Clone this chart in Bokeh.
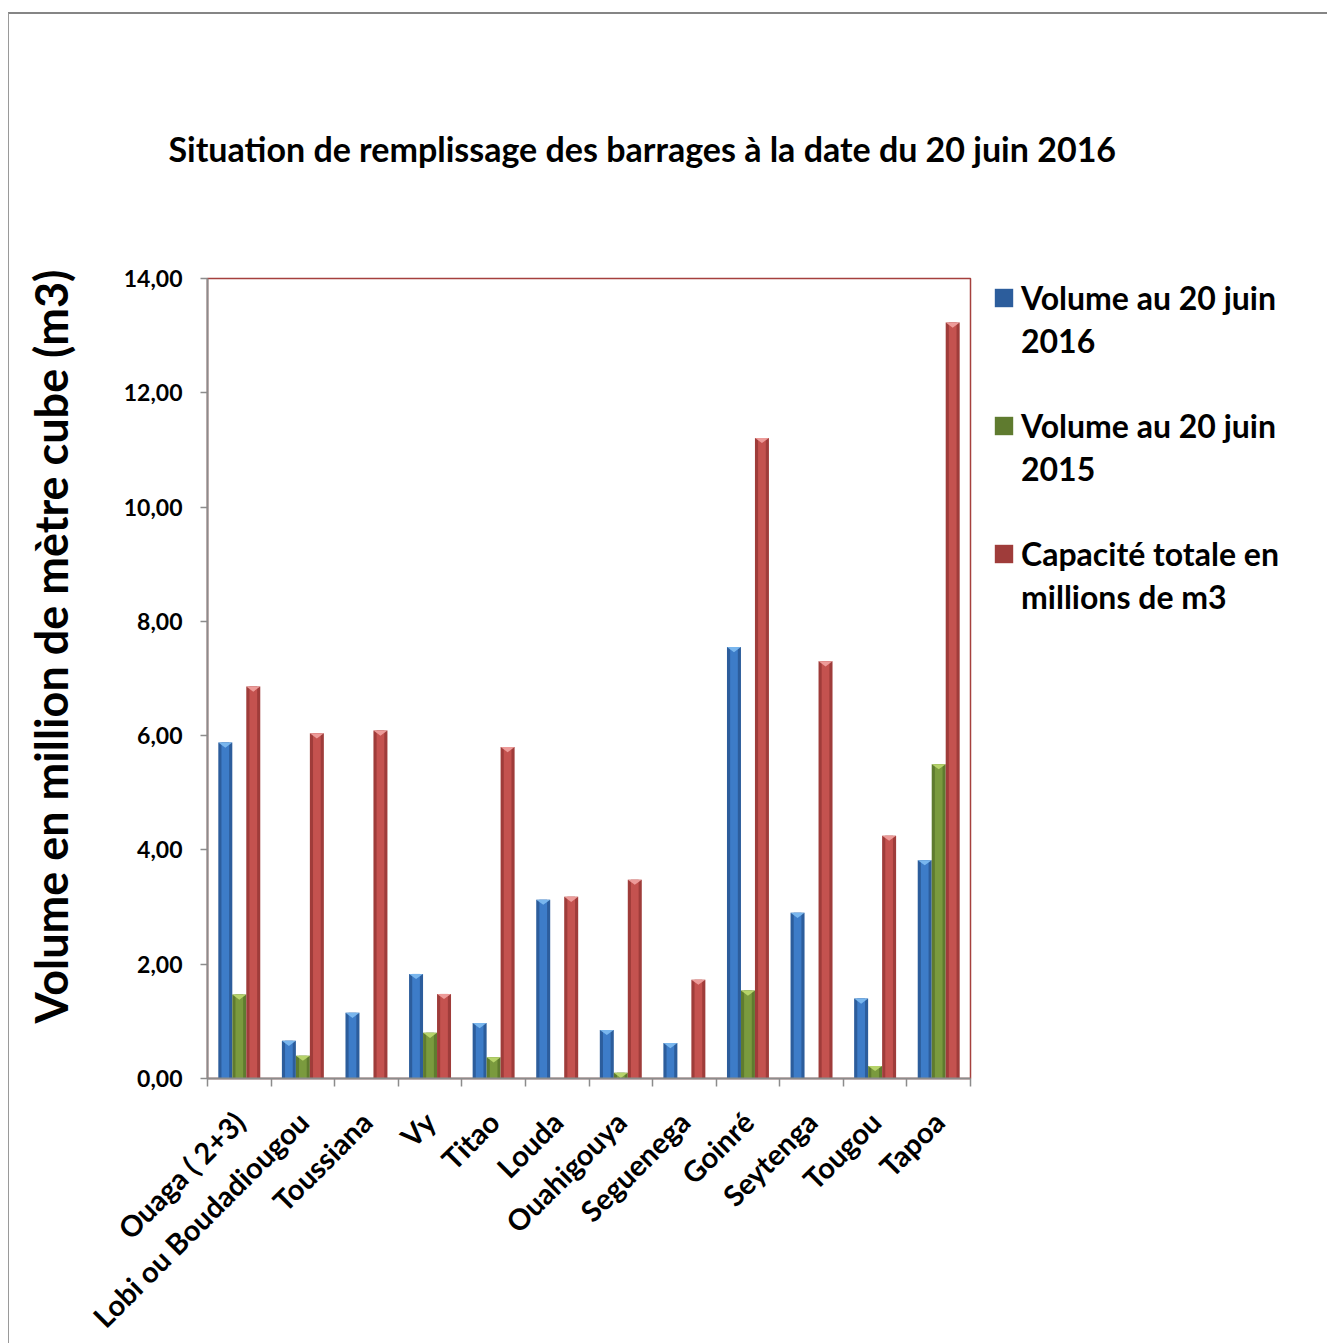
import math
from bokeh.plotting import figure
from bokeh.models import (Range1d, LinearAxis, FixedTicker, Legend, LegendItem,
                          ColumnDataSource, Title)
from bokeh.embed import file_html
from bokeh.resources import INLINE

# ---------------- data ----------------
categories = ["Ouaga ( 2+3)", "Lobi ou Boudadiougou", "Toussiana", "Vy", "Titao", "Louda",
              "Ouahigouya", "Seguenega", "Goinré", "Seytenga", "Tougou", "Tapoa"]
vol_2016 = [5.88, 0.66, 1.15, 1.83, 0.97, 3.13, 0.85, 0.62, 7.55, 2.90, 1.40, 3.82]
vol_2015 = [1.47, 0.40, 0.00, 0.80, 0.37, 0.00, 0.10, 0.00, 1.54, 0.00, 0.22, 5.50]
capacite = [6.86, 6.04, 6.09, 1.48, 5.80, 3.18, 3.48, 1.73, 11.21, 7.30, 4.25, 13.23]
series_names = [["Volume au 20 juin", "2016"], ["Volume au 20 juin", "2015"],
                ["Capacité totale en", "millions de m3"]]
y_ticks = [0, 2, 4, 6, 8, 10, 12, 14]
title_text = "Situation de remplissage des barrages à la date du 20 juin 2016"
y_title = "Volume en million de mètre cube (m3)"

FONT = "Lato"
edge_cols = ["#2C5D9C", "#5F7B2F", "#9F3C3A"]
mid_cols = ["#3D7CC8", "#7A9A3E", "#C4524F"]
tri_cols = ["#7FBCF2", "#BCD96F", "#F2A3A1"]

p = figure(frame_width=763, frame_height=800, output_backend="svg", toolbar_location=None,
           x_range=Range1d(0, len(categories)), y_range=Range1d(0, 14),
           min_border_left=198, min_border_right=349, min_border_top=264, min_border_bottom=240,
           x_axis_location=None, y_axis_location=None)
p.styles = {"border-top": "2px solid #858585", "border-left": "1px solid #9a9a9a",
            "margin-top": "12px", "margin-left": "8px"}
p.xgrid.visible = False
p.ygrid.visible = False
p.outline_line_color = "#A5403D"
p.outline_line_width = 1.5
p.background_fill_color = "white"
p.border_fill_color = "white"

bw = 0.22
offsets = [-bw, 0.0, bw]
renderers = []
for k, vals in enumerate([vol_2016, vol_2015, capacite]):
    xs = [i + 0.5 + offsets[k] for i in range(len(categories))]
    src = ColumnDataSource(dict(x=xs, top=vals))
    r = p.vbar(x="x", top="top", width=bw, bottom=0, source=src,
               fill_color=edge_cols[k], line_color=None)
    p.vbar(x="x", top="top", width=bw * 0.55, bottom=0, source=src,
           fill_color=mid_cols[k], line_color=None)
    renderers.append(r)
    txs, tys = [], []
    d = 0.09
    for x, v in zip(xs, vals):
        if v > 0:
            txs.append([x - bw / 2, x + bw / 2, x])
            tys.append([v, v, v - d])
    p.patches(txs, tys, fill_color=tri_cols[k], line_color=None, fill_alpha=0.9)

# invisible renderer used for the second line / spacer rows of the legend
blank = p.vbar(x=[], top=[], width=bw, fill_alpha=0, line_alpha=0)

# x axis: labels at centres, tick marks at category borders
xaxis = LinearAxis(ticker=FixedTicker(ticks=[i + 0.5 for i in range(len(categories))],
                                      minor_ticks=list(range(len(categories) + 1))))
xaxis.major_label_overrides = {i + 0.5: c for i, c in enumerate(categories)}
xaxis.major_label_orientation = math.pi / 4
xaxis.major_tick_in = 0
xaxis.major_tick_out = 0
xaxis.minor_tick_in = 0
xaxis.minor_tick_out = 8
xaxis.minor_tick_line_color = "#8c8c8c"
xaxis.minor_tick_line_width = 1.5
xaxis.axis_line_color = "#8c8c8c"
xaxis.axis_line_width = 2
xaxis.major_label_text_font = FONT
xaxis.major_label_text_font_style = "bold"
xaxis.major_label_text_font_size = "29px"
xaxis.major_label_text_color = "black"
xaxis.major_label_standoff = 30
p.add_layout(xaxis, "below")

yaxis = LinearAxis(ticker=FixedTicker(ticks=y_ticks, minor_ticks=[]))
yaxis.major_label_overrides = {t: f"{t:.2f}".replace(".", ",") for t in y_ticks}
yaxis.major_tick_in = 0
yaxis.major_tick_out = 7
yaxis.major_tick_line_color = "#8c8c8c"
yaxis.major_tick_line_width = 1.5
yaxis.axis_line_color = "#8c8c8c"
yaxis.axis_line_width = 2
yaxis.major_label_text_font = FONT
yaxis.major_label_text_font_style = "bold"
yaxis.major_label_text_font_size = "23px"
yaxis.major_label_text_color = "black"
yaxis.major_label_standoff = 18
# leading no-break spaces nudge the centred label slightly upwards, as in the original
yaxis.axis_label = "\u00a0" * 6 + y_title
yaxis.axis_label_text_font = FONT
yaxis.axis_label_text_font_style = "bold"
yaxis.axis_label_text_font_size = "45px"
yaxis.axis_label_text_color = "black"
yaxis.axis_label_standoff = 43
p.add_layout(yaxis, "left")

p.add_layout(Title(text=title_text, align="left", offset=-39, standoff=220,
                   text_font=FONT, text_font_style="bold", text_font_size="34px",
                   text_color="black"), "above")

items = []
for k in range(3):
    items.append(LegendItem(label=series_names[k][0], renderers=[renderers[k]]))
    items.append(LegendItem(label=series_names[k][1], renderers=[blank]))
    if k < 2:
        items.append(LegendItem(label=" ", renderers=[blank]))
legend = Legend(items=items, location=(12, 452), padding=10, margin=0, spacing=4,
                glyph_width=23, glyph_height=23, label_standoff=6, label_height=38,
                label_text_font=FONT, label_text_font_style="bold", label_text_font_size="32px",
                label_text_color="black",
                border_line_alpha=0, background_fill_alpha=0)
p.add_layout(legend, "right")

open("out.html", "w").write(file_html(p, INLINE))
